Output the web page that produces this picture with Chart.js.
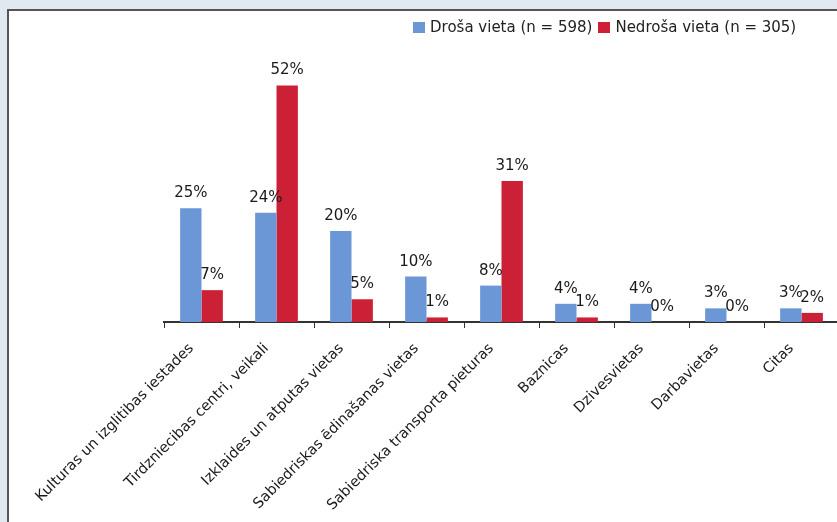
<!DOCTYPE html>
<html>
<head>
<meta charset="utf-8">
<script src="https://cdn.jsdelivr.net/npm/chart.js@4.4.1/dist/chart.umd.min.js"></script>
<style>
  html, body { margin: 0; padding: 0; overflow: hidden; }
  body { width: 837px; height: 522px; background: #e1e8f0; position: relative; font-family: "DejaVu Sans", sans-serif; }
  #panel {
    position: absolute; left: 7px; top: 9px; width: 900px; height: 600px;
    background: #fff; border-left: 2px solid #555; border-top: 2px solid #555;
  }
  #chart { position: absolute; left: 0; top: 0; }
  #legend {
    position: absolute; left: 404px; top: 7px; font-size: 15px; color: #222;
    display: flex; align-items: center; white-space: nowrap;
  }
  #legend span.box { display: inline-block; width: 12px; height: 11px; margin-right: 5px; }
  #legend span.item { display: inline-flex; align-items: center; margin-right: 6px; }
</style>
</head>
<body>
<div id="panel">
  <canvas id="chart" width="850" height="511"></canvas>
  <div id="legend"></div>
</div>
<script>
// vietu kategorijas
let categories = [
  "Kulturas un izglitibas iestades",
  "Tirdzniecibas centri, veikali",
  "Izklaides un atputas vietas",
  "Sabiedriskas ēdinašanas vietas",
  "Sabiedriska transporta pieturas",
  "Baznicas",
  "Dzivesvietas",
  "Darbavietas",
  "Citas"
];
let seriesNames = ["Droša vieta (n = 598)", "Nedroša vieta (n = 305)"];
let safeValues = [25, 24, 20, 10, 8, 4, 4, 3, 3];
let unsafeValues = [7, 52, 5, 1, 31, 1, 0, 0, 2];

let blue = "#6b97d6";
let red = "#cc2036";

// legenda
let legend = document.getElementById("legend");
[[seriesNames[0], blue], [seriesNames[1], red]].forEach(item => {
  let span = document.createElement("span");
  span.className = "item";
  let box = document.createElement("span");
  box.className = "box";
  box.style.backgroundColor = item[1];
  span.appendChild(box);
  span.appendChild(document.createTextNode(item[0]));
  legend.appendChild(span);
});

// procenti virs stabiem
const valueLabels = {
  id: "valueLabels",
  afterDatasetsDraw(chart) {
    let ctx = chart.ctx;
    ctx.save();
    ctx.font = "15px 'DejaVu Sans'";
    ctx.fillStyle = "#1a1a1a";
    ctx.textAlign = "center";
    ctx.textBaseline = "alphabetic";
    chart.data.datasets.forEach((ds, i) => {
      chart.getDatasetMeta(i).data.forEach((bar, j) => {
        ctx.fillText(ds.data[j] + "%", bar.x, bar.y - 11);
      });
    });
    ctx.restore();
  }
};

const ctx = document.getElementById("chart").getContext("2d");
const myChart = new Chart(ctx, {
  type: "bar",
  data: {
    labels: categories,
    datasets: [
      { label: seriesNames[0], data: safeValues, backgroundColor: blue, barPercentage: 1, categoryPercentage: 0.57 },
      { label: seriesNames[1], data: unsafeValues, backgroundColor: red, barPercentage: 1, categoryPercentage: 0.57 }
    ]
  },
  options: {
    responsive: false,
    animation: false,
    layout: { padding: { left: 155, right: 20, top: 38, bottom: 0 } },
    plugins: {
      legend: { display: false },
      tooltip: { enabled: false }
    },
    scales: {
      x: {
        afterFit(scale) { scale.height = 200; },
        grid: {
          offset: true,
          drawOnChartArea: false,
          drawTicks: true,
          tickLength: 6,
          color: "#333",
          lineWidth: 1
        },
        border: { display: true, color: "#333", width: 2 },
        ticks: {
          minRotation: 45,
          maxRotation: 45,
          autoSkip: false,
          padding: 12,
          labelOffset: -10,
          color: "#1a1a1a",
          font: { family: "DejaVu Sans", size: 14.5 }
        }
      },
      y: {
        display: false,
        min: 0,
        max: 60
      }
    }
  },
  plugins: [valueLabels]
});
</script>
</body>
</html>
